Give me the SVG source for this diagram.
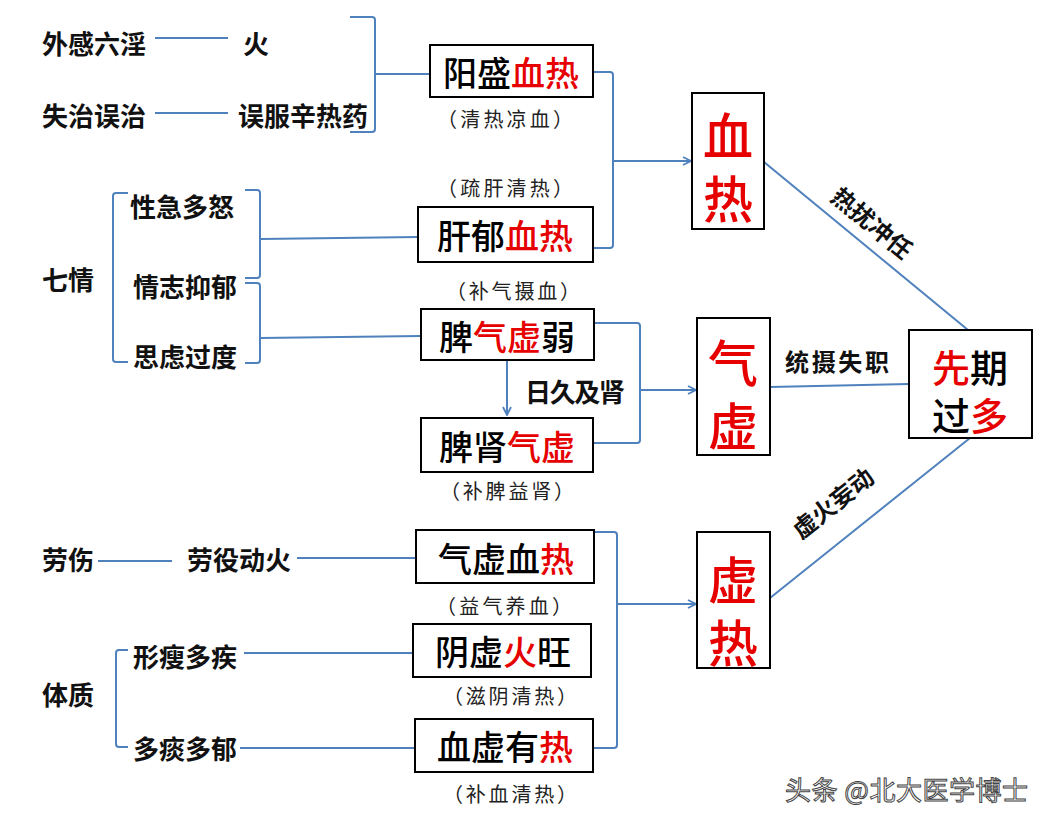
<svg xmlns="http://www.w3.org/2000/svg" width="1056" height="824" viewBox="0 0 1056 824">
<style>
.lbl{font-family:"Noto Sans CJK SC","Noto Sans",sans-serif;font-weight:bold;font-size:26px;fill:#111;dominant-baseline:central}
.box{fill:#fff;stroke:#000;stroke-width:2}
.bt{font-family:"Noto Sans CJK SC","Noto Sans",sans-serif;font-weight:500;font-size:34px;fill:#000;text-anchor:middle;dominant-baseline:central}
.big{font-family:"Noto Sans CJK SC","Noto Sans",sans-serif;font-weight:500;font-size:50px;fill:#e60000;text-anchor:middle;dominant-baseline:central}
.mid{font-family:"Noto Sans CJK SC","Noto Sans",sans-serif;font-weight:500;font-size:38px;fill:#000;text-anchor:middle;dominant-baseline:central}
.par{font-family:"Noto Sans CJK SC","Noto Sans",sans-serif;font-size:20px;fill:#222;text-anchor:middle;dominant-baseline:central}
.red{fill:#e60000}
.ln{fill:none;stroke:#4f81bd;stroke-width:2}
.edge{font-family:"Noto Sans CJK SC","Noto Sans",sans-serif;font-weight:bold;font-size:24px;fill:#111;text-anchor:middle;dominant-baseline:central}
.wm{font-family:"Noto Sans CJK SC","Noto Sans",sans-serif;font-size:26px;fill:#fff;stroke:#444;stroke-width:1;dominant-baseline:central}
</style>
<defs>
<marker id="arr" viewBox="0 0 10 10" refX="9" refY="5" markerWidth="10" markerHeight="10" markerUnits="userSpaceOnUse" orient="auto">
<path d="M1,1 L9,5 L1,9" fill="none" stroke="#4f81bd" stroke-width="1.8"/>
</marker>
</defs>
<rect width="1056" height="824" fill="#fff"/>

<g id="connectors">
<path class="ln" d="M155,38 H228"/>
<path class="ln" d="M155,113 H228"/>
<path class="ln" d="M350,17 H372 Q375,17 375,20 V129 Q375,132 372,132 H350"/>
<path class="ln" d="M375,74 H430"/>
<path class="ln" d="M593,72 H610 Q613,72 613,75 V245 Q613,248 610,248 H593"/>
<path class="ln" d="M613,161 H691" marker-end="url(#arr)"/>
<path class="ln" d="M128,193 H116 Q113,193 113,196 V359 Q113,362 116,362 H128"/>
<path class="ln" d="M245,190 H257 Q260,190 260,193 V275 Q260,278 257,278 H245"/>
<path class="ln" d="M260,239 L418,237"/>
<path class="ln" d="M245,283 H257 Q260,283 260,286 V360 Q260,363 257,363 H245"/>
<path class="ln" d="M260,338 L421,336"/>
<path class="ln" d="M507,360 V415" marker-end="url(#arr)"/>
<path class="ln" d="M594,323 H637 Q640,323 640,326 V440 Q640,443 637,443 H593"/>
<path class="ln" d="M640,390 H696" marker-end="url(#arr)"/>
<path class="ln" d="M98,561 H172"/>
<path class="ln" d="M297,558 H416"/>
<path class="ln" d="M128,650 H119 Q116,650 116,653 V744 Q116,747 119,747 H128"/>
<path class="ln" d="M244,653 H413"/>
<path class="ln" d="M240,748 H415"/>
<path class="ln" d="M594,532 H614 Q617,532 617,535 V745 Q617,748 614,748 H593"/>
<path class="ln" d="M617,604 H696" marker-end="url(#arr)"/>
<path class="ln" d="M764,162 L968,330"/>
<path class="ln" d="M770,387 L909,384"/>
<path class="ln" d="M970,438 L770,598"/>
<text class="edge" transform="translate(873,222) rotate(39.5)">热扰冲任</text>
<text class="edge" x="837" y="360" textLength="104" lengthAdjust="spacing">统摄失职</text>
<text class="edge" transform="translate(832,502) rotate(-38.5)">虚火妄动</text>
<text class="lbl" x="525" y="390" textLength="100" lengthAdjust="spacing">日久及肾</text>
</g>

<g id="src-waigan"><text class="lbl" x="42" y="42">外感六淫</text></g>
<g id="src-huo"><text class="lbl" x="243" y="42">火</text></g>
<g id="src-shizhi"><text class="lbl" x="42" y="114">失治误治</text></g>
<g id="src-wufu"><text class="lbl" x="238" y="114">误服辛热药</text></g>
<g id="src-qiqing"><text class="lbl" x="42" y="278">七情</text></g>
<g id="src-xingji"><text class="lbl" x="130" y="205">性急多怒</text></g>
<g id="src-qingzhi"><text class="lbl" x="133" y="285">情志抑郁</text></g>
<g id="src-silv"><text class="lbl" x="133" y="355">思虑过度</text></g>
<g id="src-laoshang"><text class="lbl" x="42" y="558">劳伤</text></g>
<g id="src-laoyi"><text class="lbl" x="187" y="558">劳役动火</text></g>
<g id="src-tizhi"><text class="lbl" x="42" y="693">体质</text></g>
<g id="src-xingshou"><text class="lbl" x="133" y="655">形瘦多疾</text></g>
<g id="src-duotan"><text class="lbl" x="133" y="747">多痰多郁</text></g>

<g id="n-yangsheng">
<rect class="box" x="430" y="45" width="163" height="52"/>
<text class="bt" x="511" y="71">阳盛<tspan class="red">血热</tspan></text>
<text class="par" x="505" y="118" textLength="136" lengthAdjust="spacing">（清热凉血）</text>
</g>
<g id="n-ganyu">
<text class="par" x="505" y="187" textLength="136" lengthAdjust="spacing">（疏肝清热）</text>
<rect class="box" x="418" y="207" width="175" height="55"/>
<text class="bt" x="505" y="234">肝郁<tspan class="red">血热</tspan></text>
</g>
<g id="n-piqi">
<text class="par" x="513" y="290" textLength="134" lengthAdjust="spacing">（补气摄血）</text>
<rect class="box" x="421" y="309" width="173" height="51"/>
<text class="bt" x="507" y="335">脾<tspan class="red">气虚</tspan>弱</text>
</g>
<g id="n-pishen">
<rect class="box" x="421" y="418" width="172" height="54"/>
<text class="bt" x="507" y="445">脾肾<tspan class="red">气虚</tspan></text>
<text class="par" x="507" y="490" textLength="134" lengthAdjust="spacing">（补脾益肾）</text>
</g>
<g id="n-qixuxuere">
<rect class="box" x="416" y="530" width="178" height="53"/>
<text class="bt" x="506" y="557">气虚血<tspan class="red">热</tspan></text>
<text class="par" x="504" y="605" textLength="136" lengthAdjust="spacing">（益气养血）</text>
</g>
<g id="n-yinxu">
<rect class="box" x="413" y="624" width="178" height="53"/>
<text class="bt" x="503" y="650">阴虚<tspan class="red">火</tspan>旺</text>
<text class="par" x="510" y="695" textLength="134" lengthAdjust="spacing">（滋阴清热）</text>
</g>
<g id="n-xuexu">
<rect class="box" x="415" y="719" width="178" height="53"/>
<text class="bt" x="505" y="745">血虚有<tspan class="red">热</tspan></text>
<text class="par" x="510" y="793" textLength="134" lengthAdjust="spacing">（补血清热）</text>
</g>

<g id="n-xuere">
<rect class="box" x="692" y="93" width="72" height="136"/>
<text class="big"><tspan x="728" y="133">血</tspan><tspan x="728" y="196">热</tspan></text>
</g>
<g id="n-qixu">
<rect class="box" x="697" y="318" width="73" height="137"/>
<text class="big"><tspan x="733" y="360">气</tspan><tspan x="733" y="423">虚</tspan></text>
</g>
<g id="n-xure">
<rect class="box" x="697" y="532" width="73" height="136"/>
<text class="big"><tspan x="733" y="577">虚</tspan><tspan x="733" y="640">热</tspan></text>
</g>
<g id="n-xianqi">
<rect class="box" x="909" y="330" width="123" height="108"/>
<text class="mid"><tspan x="970" y="365"><tspan class="red">先</tspan>期</tspan><tspan x="970" y="413">过<tspan class="red">多</tspan></tspan></text>
</g>

<text class="wm" x="785" y="788" textLength="243" lengthAdjust="spacing">头条 @北大医学博士</text>
</svg>
